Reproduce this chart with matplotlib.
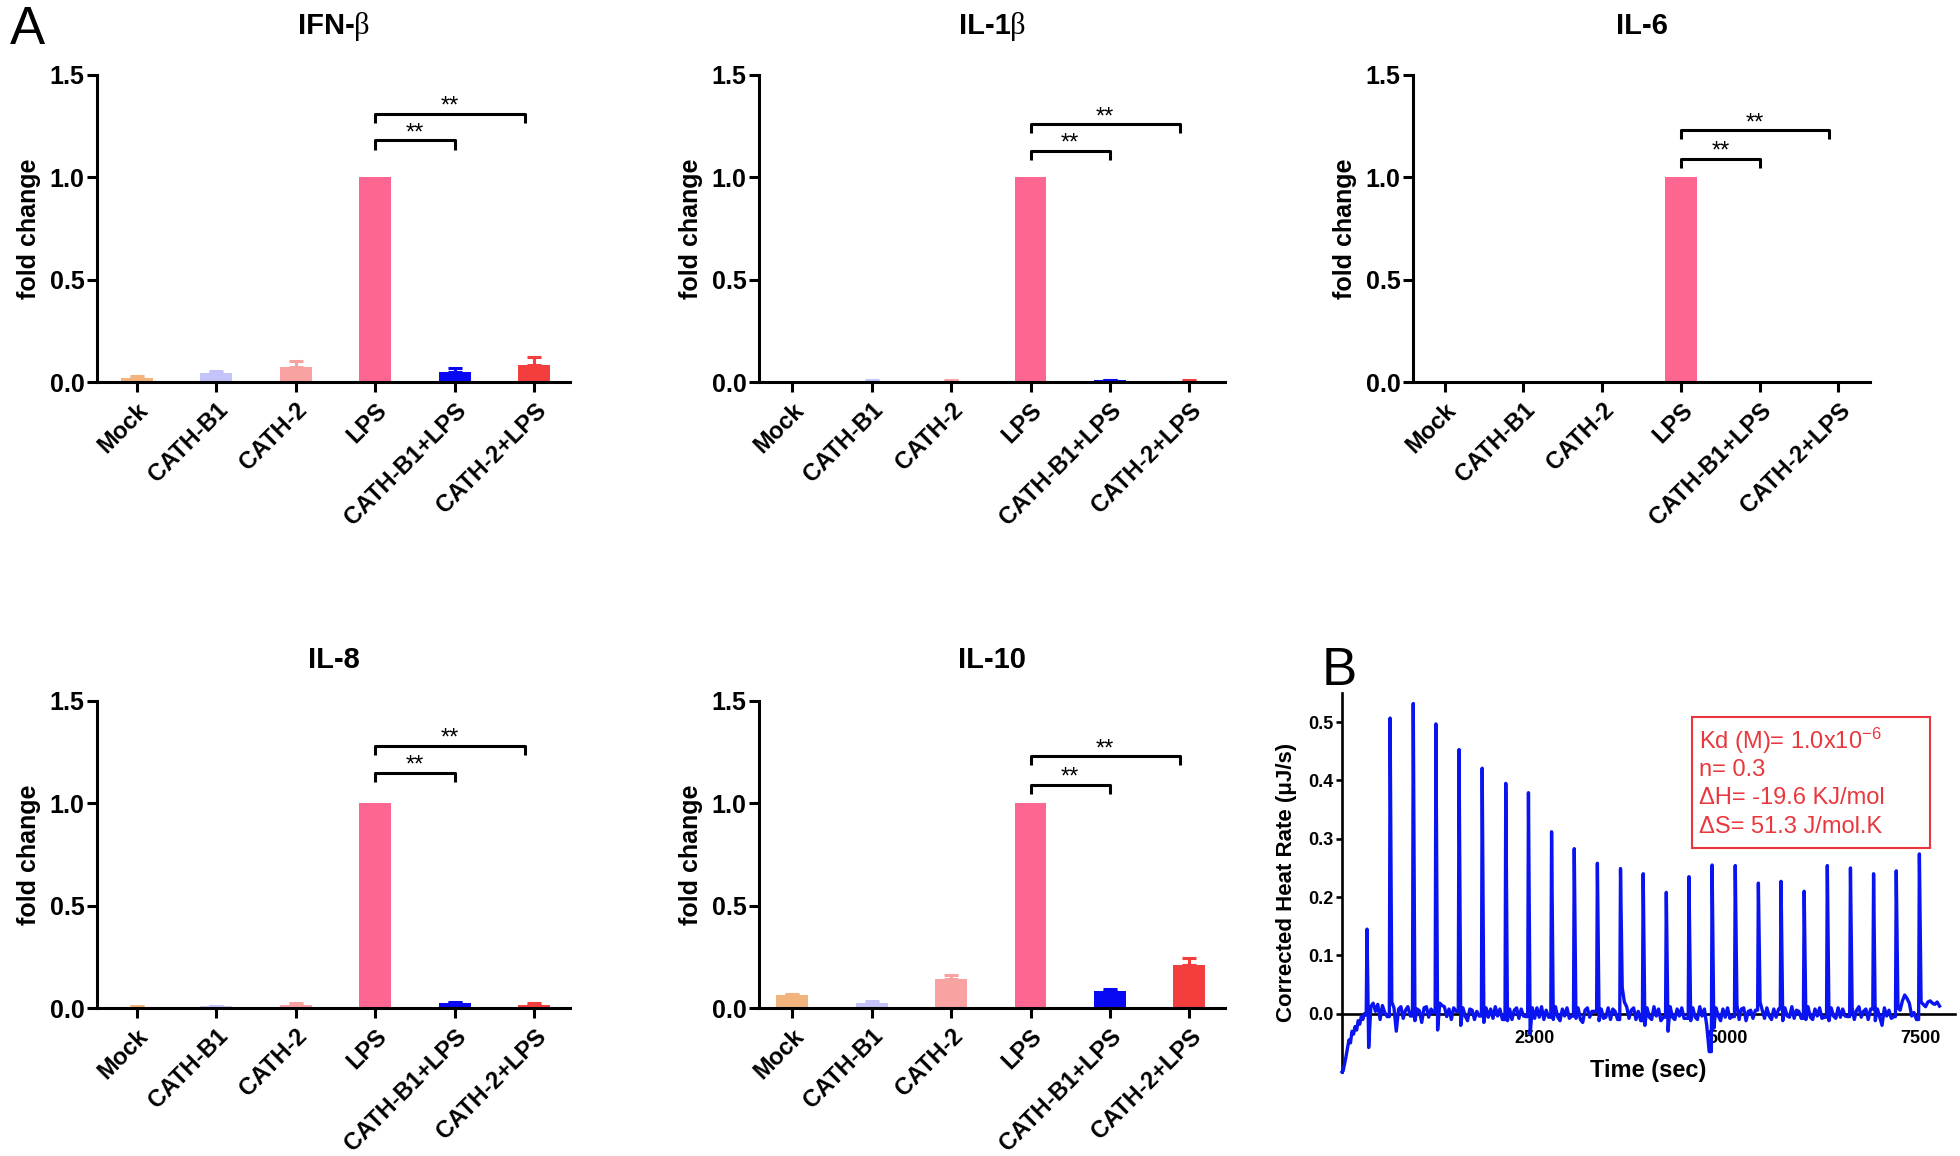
import numpy as np
import matplotlib
matplotlib.use("Agg")
import matplotlib.pyplot as plt
from matplotlib.patches import Rectangle

plt.rcParams['font.family'] = ['Liberation Sans', 'DejaVu Sans']
plt.rcParams['mathtext.fontset'] = 'custom'
plt.rcParams['mathtext.rm'] = 'Liberation Sans'
plt.rcParams['mathtext.it'] = 'Liberation Sans:italic'
plt.rcParams['mathtext.bf'] = 'Liberation Sans:bold'

W, H = 1960, 1156

# ---- bar data (fold change, mean and upper error) ----
groups = ["Mock", "CATH-B1", "CATH-2", "LPS", "CATH-B1+LPS", "CATH-2+LPS"]
bar_colors = ["#f2b47c", "#c4c4fb", "#f9a2a2", "#fc6690", "#0808f2", "#f43d3d"]

ifnb = [0.02, 0.045, 0.075, 1.0, 0.05, 0.085]
ifnb_err = [0.008, 0.01, 0.027, 0.0, 0.02, 0.037]
il1b = [0.0, 0.006, 0.006, 1.0, 0.008, 0.006]
il1b_err = [0.0, 0.002, 0.002, 0.0, 0.002, 0.002]
il6 = [0.0, 0.0, 0.0, 1.0, 0.0, 0.0]
il6_err = [0.0, 0.0, 0.0, 0.0, 0.0, 0.0]
il8 = [0.006, 0.008, 0.016, 1.0, 0.022, 0.016]
il8_err = [0.003, 0.004, 0.01, 0.0, 0.008, 0.008]
il10 = [0.062, 0.026, 0.14, 1.0, 0.082, 0.212]
il10_err = [0.008, 0.007, 0.02, 0.0, 0.013, 0.034]

# significance bracket heights (LPS vs CATH-B1+LPS, LPS vs CATH-2+LPS)
sig_short = [1.18, 1.13, 1.09, 1.15, 1.09]
sig_long = [1.31, 1.26, 1.23, 1.28, 1.23]

# ---- ITC trace (panel B) ----
itc_start_t = [0, 15, 30, 50, 70, 90, 110, 130, 150, 170, 190, 210, 230, 250, 270, 290, 305]
itc_start_y = [-0.1, -0.098, -0.088, -0.075, -0.06, -0.045, -0.05, -0.03, -0.035, -0.022,
               -0.028, -0.012, -0.018, -0.005, -0.01, 0.0, -0.002]
peak_t = [324, 624, 924, 1218, 1518, 1818, 2124, 2418, 2718, 3012, 3312, 3612, 3906,
          4206, 4500, 4800, 5100, 5400, 5694, 5994, 6294, 6594, 6894, 7188, 7488]
peak_h = [0.145, 0.507, 0.532, 0.497, 0.453, 0.421, 0.395, 0.379, 0.312, 0.283, 0.258,
          0.249, 0.240, 0.208, 0.235, 0.255, 0.254, 0.224, 0.227, 0.210, 0.254, 0.250,
          0.240, 0.245, 0.274]
base_offsets = [22, 50, 80, 110, 140, 170, 200, 230, 262]
base_y = [
    [-0.058, 0.012, 0.018, 0.004, 0.016, -0.01, 0.014, 0.002, -0.005],
    [0.02, 0.01, -0.03, 0.008, 0.012, -0.008, 0.006, 0.012, -0.004],
    [-0.012, 0.008, 0.005, -0.015, 0.01, 0.012, -0.006, 0.008, 0.002],
    [-0.028, 0.018, 0.014, 0.012, -0.005, 0.008, -0.01, 0.01, 0.004],
    [-0.02, 0.01, -0.004, -0.012, 0.008, 0.006, -0.01, 0.004, -0.004],
    [-0.015, 0.01, -0.006, 0.008, -0.008, 0.012, -0.004, 0.008, -0.01],
    [-0.012, 0.008, -0.01, 0.006, 0.01, -0.008, 0.008, -0.004, -0.005],
    [-0.035, 0.01, -0.008, 0.01, -0.006, 0.012, -0.01, 0.006, -0.006],
    [-0.01, 0.012, -0.006, -0.012, 0.008, -0.004, 0.01, -0.008, -0.004],
    [-0.008, 0.01, -0.01, -0.015, 0.006, 0.01, -0.006, 0.004, 0.004],
    [-0.012, 0.008, -0.008, -0.006, 0.01, -0.01, 0.008, 0.004, -0.01],
    [0.045, 0.02, 0.012, -0.008, 0.006, 0.01, -0.01, 0.004, -0.012],
    [-0.02, 0.01, -0.006, -0.01, 0.012, -0.004, 0.008, -0.012, -0.006],
    [-0.03, 0.012, -0.006, -0.01, 0.008, -0.004, 0.01, -0.008, -0.008],
    [-0.012, 0.01, -0.006, -0.01, 0.012, -0.004, 0.008, -0.02, -0.065],
    [-0.025, 0.01, -0.004, -0.012, 0.008, -0.006, 0.01, -0.008, -0.005],
    [0.015, -0.01, 0.008, 0.01, -0.012, 0.004, 0.006, -0.008, 0.006],
    [0.02, 0.006, -0.008, 0.01, -0.004, -0.01, 0.008, -0.006, 0.008],
    [-0.012, 0.01, -0.004, -0.006, 0.012, -0.008, 0.006, 0.004, -0.008],
    [-0.01, 0.012, -0.006, -0.01, 0.008, -0.004, 0.01, -0.008, -0.006],
    [-0.012, 0.01, -0.004, -0.008, 0.01, -0.006, 0.008, -0.004, -0.005],
    [0.01, -0.01, 0.006, 0.012, -0.006, 0.004, 0.008, -0.01, 0.008],
    [-0.012, 0.008, -0.006, -0.02, 0.01, -0.004, 0.006, -0.008, -0.005],
    [0.01, 0.006, 0.022, 0.032, 0.026, 0.018, -0.004, 0.002, -0.01],
    [0.02, 0.016, 0.012, 0.02, 0.022, 0.018, 0.016, 0.02, 0.013],
]

itc_lines = ["Kd (M)= 1.0x10$^{-6}$", "n= 0.3", "\u0394H= -19.6 KJ/mol", "\u0394S= 51.3 J/mol.K"]

fig = plt.figure(figsize=(19.6, 11.56), dpi=100)


def px_axes(left, right, bottom, top):
    return fig.add_axes([left / W, 1 - bottom / H, (right - left) / W, (bottom - top) / H])


panels = [
    ("IFN-", "\u03b2", ifnb, ifnb_err, (97, 570, 382, 75), (-0.5, 5.45), 34),
    ("IL-1", "\u03b2", il1b, il1b_err, (759, 1225, 382, 75), (-0.42, 5.45), 34),
    ("IL-6", "", il6, il6_err, (1413, 1870, 382, 75), (-0.4, 5.4), 34),
    ("IL-8", "", il8, il8_err, (97, 570, 1008, 701), (-0.5, 5.45), 668),
    ("IL-10", "", il10, il10_err, (759, 1225, 1008, 701), (-0.42, 5.45), 668),
]

x = np.arange(len(groups))
for i, (t1, t2, vals, errs, box, xl, title_base) in enumerate(panels):
    ax = px_axes(*box)
    ax.bar(x, vals, width=0.4, color=bar_colors, zorder=2)
    for xi, v, e, c in zip(x, vals, errs, bar_colors):
        if e > 0:
            ax.errorbar(xi, v, yerr=[[0], [e]], color=c, capsize=5,
                        elinewidth=2.2, capthick=2.2, zorder=1)
    ax.set_xlim(*xl)
    ax.set_ylim(0, 1.5)
    ax.set_yticks([0, 0.5, 1.0, 1.5])
    ax.set_xticks(x)
    ax.set_xticklabels(groups, rotation=45, ha='right', rotation_mode='anchor')
    for s in ['top', 'right']:
        ax.spines[s].set_visible(False)
    for s in ['left', 'bottom']:
        ax.spines[s].set_linewidth(2.2)
    ax.tick_params(axis='both', width=2.2, length=7)
    ax.tick_params(axis='y', pad=2, labelsize=18)
    ax.tick_params(axis='x', pad=5, labelsize=17)
    for lbl in ax.get_xticklabels() + ax.get_yticklabels():
        lbl.set_fontweight('bold')
    ax.set_ylabel("fold change", fontsize=18, fontweight='bold', labelpad=6)

    # title
    ty = 1 + (box[3] - title_base) / (box[2] - box[3])
    if t2:
        dx = (20.8 if t1 == "IFN-" else 18.3) / (box[1] - box[0])
        ax.text(0.5 + dx, ty, t1, transform=ax.transAxes, ha='right', va='baseline',
                fontsize=21, fontweight='bold')
        ax.text(0.5 + dx, ty, t2, transform=ax.transAxes, ha='left', va='baseline',
                fontsize=22, family='Liberation Serif')
    else:
        ax.text(0.5, ty, t1, transform=ax.transAxes, ha='center', va='baseline',
                fontsize=21, fontweight='bold')

    # significance brackets
    d = 0.045
    for x2, yb in [(4.0, sig_short[i]), (4.88, sig_long[i])]:
        ax.plot([3.0, 3.0, x2, x2], [yb - d, yb, yb, yb - d], color='black', lw=2.2,
                solid_capstyle='butt', clip_on=False)
        ax.text((3.0 + x2) / 2, yb + 0.005, "**", ha='center', va='baseline', fontsize=17)

# ---- panel B ----
t_all = list(itc_start_t)
y_all = list(itc_start_y)
for tp, hp, row in zip(peak_t, peak_h, base_y):
    t_all += [tp - 10, tp]
    y_all += [y_all[-1], hp]
    t_all += [tp + o for o in base_offsets]
    y_all += row

axb = px_axes(1342, 1955, 1072, 693)
axb.plot(t_all, y_all, color='#0a14f0', lw=2.4, clip_on=False, zorder=3)
axb.set_xlim(0, 7950)
axb.set_ylim(-0.1, 0.55)
axb.spines['bottom'].set_position(('data', 0))
for s in ['top', 'right']:
    axb.spines[s].set_visible(False)
for s in ['left', 'bottom']:
    axb.spines[s].set_linewidth(1.9)
axb.set_yticks([0.0, 0.1, 0.2, 0.3, 0.4, 0.5])
axb.set_xticks([2500, 5000, 7500])
axb.tick_params(axis='y', width=1.9, length=4, pad=2, labelsize=13)
axb.tick_params(axis='x', length=0, pad=12, labelsize=13)
for lbl in axb.get_xticklabels() + axb.get_yticklabels():
    lbl.set_fontweight('bold')
axb.set_ylabel("Corrected Heat Rate (\u03bcJ/s)", fontsize=16, fontweight='bold', labelpad=8)
fig.text(1648 / W, 1 - 1070 / H, "Time (sec)", ha='center', va='center',
         fontsize=17, fontweight='bold')

red = '#e8383d'
fig.patches.append(Rectangle((1692 / W, 1 - 848 / H), 238 / W, 131 / H,
                             transform=fig.transFigure, fill=False, edgecolor=red, lw=1.5))
for line, yb in zip(itc_lines, [749, 776, 804, 833]):
    fig.text(1699 / W, 1 - yb / H, line, ha='left', va='baseline', fontsize=17, color=red)

# panel letters
fig.text(10 / W, 1 - 44 / H, "A", fontsize=38, va='baseline', ha='left')
fig.text(1322 / W, 1 - 685 / H, "B", fontsize=38, va='baseline', ha='left')

fig.savefig("out.png", dpi=100)
